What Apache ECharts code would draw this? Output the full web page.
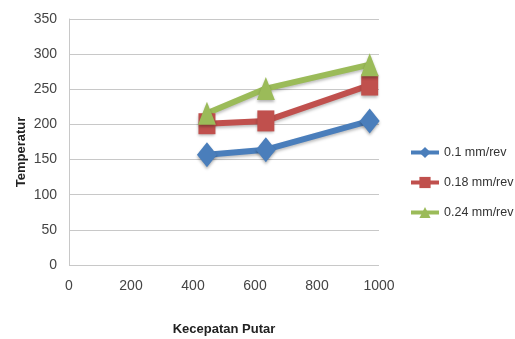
<!DOCTYPE html>
<html>
<head>
<meta charset="utf-8">
<script src="https://cdn.jsdelivr.net/npm/echarts@6/dist/echarts.min.js"></script>
<style>html,body{margin:0;padding:0;background:#fff}#c{width:515px;height:339px}</style>
</head>
<body>
<div id="c"></div>
<script>
var speeds = [445, 635, 970];
var seriesNames = ['0.1 mm/rev', '0.18 mm/rev', '0.24 mm/rev'];
var temp01 = [157, 164, 205];
var temp018 = [201, 205, 256];
var temp024 = [216, 251, 285];
var xTicks = [0, 200, 400, 600, 800, 1000];
var yTicks = [0, 50, 100, 150, 200, 250, 300, 350];

var font = '"Liberation Sans", Arial, sans-serif';
function pairs(v){ return speeds.map(function(s,i){ return [s, v[i]]; }); }
var colors = ['#4a7ebb', '#c0504d', '#9bbb59'];
var symbols = ['diamond', 'rect', 'triangle'];
var sizes = [[20, 25], [17, 21], [18, 23]];
var data = [temp01, temp018, temp024];

var chart = echarts.init(document.getElementById('c'));
chart.setOption({
  animation: false,
  grid: {left: 69, right: 136, top: 19, bottom: 74, outerBoundsMode: 'none', containLabel: false},
  legend: {
    orient: 'vertical', left: 409, top: 146, padding: 0, itemGap: 17, itemWidth: 28, itemHeight: 14,
    lineStyle: {width: 4},
    textStyle: {fontFamily: font, fontSize: 12.5, color: '#333'},
    data: seriesNames.map(function(n){ return {name: n}; })
  },
  xAxis: {
    type: 'value', min: 0, max: 1000, interval: 200,
    name: 'Kecepatan Putar', nameLocation: 'middle', nameGap: 58, nameMoveOverlap: false,
    nameTextStyle: {fontFamily: font, fontSize: 13, fontWeight: 'bold', color: '#222'},
    axisLine: {show: false}, axisTick: {show: false},
    axisLabel: {fontFamily: font, fontSize: 14, color: '#444', margin: 14,
      formatter: function(v){ return String(v); }},
    splitLine: {show: false}
  },
  yAxis: {
    type: 'value', min: 0, max: 350, interval: 50,
    name: 'Temperatur', nameLocation: 'middle', nameGap: 41, nameMoveOverlap: false,
    nameTextStyle: {fontFamily: font, fontSize: 13, fontWeight: 'bold', color: '#222', padding: [0,0,0,-20]},
    axisLine: {show: true, lineStyle: {color: '#c8c8c8'}}, axisTick: {show: false},
    axisLabel: {fontFamily: font, fontSize: 14, color: '#444', margin: 12},
    splitLine: {lineStyle: {color: '#c8c8c8'}}
  },
  series: seriesNames.map(function(n, i){
    return {
      name: n, type: 'line', data: pairs(data[i]),
      symbol: symbols[i], symbolSize: sizes[i],
      lineStyle: {width: 6, color: colors[i], shadowColor: 'rgba(0,0,0,0.25)', shadowBlur: 3, shadowOffsetY: 2},
      itemStyle: {color: colors[i], shadowColor: 'rgba(0,0,0,0.3)', shadowBlur: 3, shadowOffsetY: 2}
    };
  })
});
</script>
</body>
</html>
